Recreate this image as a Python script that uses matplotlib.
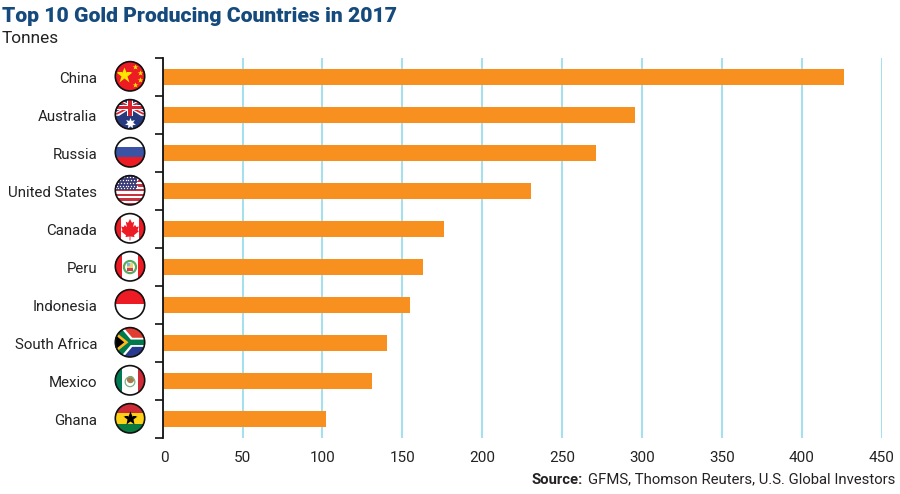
import matplotlib
matplotlib.use("Agg")
import matplotlib.pyplot as plt
from matplotlib.patches import Circle, Rectangle, Polygon
from matplotlib.transforms import ScaledTranslation

plt.rcParams['font.family'] = ['Roboto', 'DejaVu Sans']

countries = ["China", "Australia", "Russia", "United States", "Canada",
             "Peru", "Indonesia", "South Africa", "Mexico", "Ghana"]
tonnes = [426.5, 295.5, 271, 230.5, 176, 163, 154.5, 140.5, 131, 102]
xticks = [0, 50, 100, 150, 200, 250, 300, 350, 400, 450]
title = "Top 10 Gold Producing Countries in 2017"
subtitle = "Tonnes"
source_bold = "Source:"
source_rest = "GFMS, Thomson Reuters, U.S. Global Investors"

W, H = 900, 494
fig = plt.figure(figsize=(W / 100, H / 100), dpi=100)
ax = fig.add_axes([162.7 / W, 1 - 438.3 / H, 719 / W, 380 / H])

TEXT = "#232325"
ax.barh(range(len(countries)), tonnes, height=16 / 38, color="#F7901E", zorder=3)
ax.set_xlim(0, 450)
ax.set_ylim(len(countries) - 0.5, -0.5)
ax.set_xticks(xticks)
ax.set_xticklabels([str(t) for t in xticks], fontsize=11, color=TEXT)
ax.tick_params(axis='x', length=0, pad=9)
zero = ax.get_xticklabels()[0]
zero.set_transform(zero.get_transform() + ScaledTranslation(1.5 / 72, 0, fig.dpi_scale_trans))
ax.set_yticks([i - 0.5 for i in range(len(countries) + 1)])
ax.set_yticklabels([])
ax.tick_params(axis='y', which='major', length=5.5, width=1.2, color="#111111", direction='out')
ax.set_yticks(range(len(countries)), minor=True)
ax.set_yticklabels(countries, minor=True, fontsize=10.8, color=TEXT)
ax.tick_params(axis='y', which='minor', length=0, pad=47)
ax.grid(axis='x', color="#A6DFEE", linewidth=1.5, zorder=1)
ax.set_axisbelow(True)
for s in ('top', 'right', 'bottom'):
    ax.spines[s].set_visible(False)
ax.spines['left'].set_linewidth(1.3)
ax.spines['left'].set_color("#111111")
ax.spines['left'].set_zorder(5)

fig.text(2 / W, 1 - 22 / H, title, fontsize=15.2, fontweight='black', color="#154A7D", va='baseline')
fig.text(2 / W, 1 - 43 / H, subtitle, fontsize=12.4, color=TEXT, va='baseline')
fig.text(532 / W, 1 - 483.5 / H, source_bold, fontsize=10.7, fontweight='bold', color=TEXT, va='baseline')
fig.text(588 / W, 1 - 483.5 / H, source_rest, fontsize=10.7, color=TEXT, va='baseline')


def rect(a, x0, y0, x1, y1, c, z=2):
    a.add_patch(Rectangle((x0, y0), x1 - x0, y1 - y0, fc=c, ec='none', zorder=z))


def poly(a, pts, c, z=3):
    a.add_patch(Polygon(pts, closed=True, fc=c, ec='none', zorder=z))


def star(a, x, y, s, c, z=4):
    a.plot([x], [y], marker='*', ms=s, mfc=c, mec='none', zorder=z)


def china(a):
    rect(a, -1, -1, 1, 1, "#ED1C24")
    star(a, -0.42, 0.08, 12, "#FFE500")
    for x, y in [(0.32, 0.6), (0.65, 0.2), (0.65, -0.22), (0.32, -0.6)]:
        star(a, x, y, 4.2, "#FFE500")


def australia(a):
    rect(a, -1, -1, 1, 1, "#27397F")
    for p in ([(-1, 1), (-0.72, 1), (1, 0.12), (1, -0.1), (0.72, -0.1)],
              [(1, 1), (0.72, 1), (-1, 0.12), (-1, -0.1), (-0.72, -0.1)]):
        poly(a, p, "white", 3)
    for p in ([(-1, 0.93), (-0.88, 1), (1, 0.03), (0.86, -0.03)],
              [(1, 0.93), (0.88, 1), (-1, 0.03), (-0.86, -0.03)]):
        poly(a, p, "#D5232F", 4)
    rect(a, -1, 0.28, 1, 0.62, "white", 5)
    rect(a, -0.2, -0.1, 0.2, 1, "white", 5)
    rect(a, -1, 0.35, 1, 0.55, "#D5232F", 6)
    rect(a, -0.11, -0.1, 0.11, 1, "#D5232F", 6)
    a.plot([0], [-0.58], marker=(7, 1, 0), ms=8, mfc="white", mec='none', zorder=7)


def russia(a):
    rect(a, -1, 0.36, 1, 1, "white")
    rect(a, -1, -0.33, 1, 0.36, "#3A53A4")
    rect(a, -1, -1, 1, -0.33, "#ED1C24")


def usa(a):
    rect(a, -1, -1, 1, 1, "white")
    n = 13
    for i in range(0, n, 2):
        y1 = 1 - i * 2 / n
        rect(a, -1, y1 - 2 / n, 1, y1, "#C8313E")
    rect(a, -1, 0, 0.45, 1, "#3B3B78", 3)
    for r in range(5):
        for c in range(8):
            a.plot([-0.95 + c * 0.19 + (0.09 if r % 2 else 0)], [0.88 - r * 0.19], marker='o', ms=1.0,
                   mfc="white", mec='none', zorder=4)


def canada(a):
    rect(a, -1, -1, 1, 1, "white")
    rect(a, -1, -1, -0.62, 1, "#ED1C24")
    rect(a, 0.62, -1, 1, 1, "#ED1C24")
    leaf = [(0, 0.62), (-0.13, 0.36), (-0.28, 0.44), (-0.2, 0.08), (-0.34, 0.22), (-0.42, 0.08),
            (-0.58, 0.12), (-0.5, -0.12), (-0.58, -0.2), (-0.26, -0.46), (-0.3, -0.58), (-0.03, -0.54),
            (-0.03, -0.8), (0.03, -0.8), (0.03, -0.54), (0.3, -0.58), (0.26, -0.46), (0.58, -0.2),
            (0.5, -0.12), (0.58, 0.12), (0.42, 0.08), (0.34, 0.22), (0.2, 0.08), (0.28, 0.44), (0.13, 0.36)]
    poly(a, leaf, "#ED1C24")


def peru(a):
    rect(a, -1, -1, 1, 1, "white")
    rect(a, -1, -1, -0.55, 1, "#ED1C24")
    rect(a, 0.55, -1, 1, 1, "#ED1C24")
    a.add_patch(Circle((0, -0.05), 0.4, fc='none', ec="#5BAA5F", lw=1.6, zorder=3))
    rect(a, -0.17, -0.32, 0.17, 0.22, "#E9D27A", 4)
    rect(a, -0.17, 0.0, 0, 0.22, "#7FB7DC", 5)
    rect(a, -0.17, -0.32, 0.17, -0.12, "#D0454C", 5)


def indonesia(a):
    rect(a, -1, 0, 1, 1, "#ED1C24")
    rect(a, -1, -1, 1, 0, "white")


def south_africa(a):
    rect(a, -1, 0, 1, 1, "#E03C31")
    rect(a, -1, -1, 1, 0, "#27398F")
    poly(a, [(-1, 1), (-0.45, 1), (0.15, 0.3), (1, 0.3), (1, -0.3), (0.15, -0.3), (-0.45, -1), (-1, -1)], "white", 3)
    poly(a, [(-1, 1), (-0.65, 1), (0.05, 0.18), (1, 0.18), (1, -0.18), (0.05, -0.18), (-0.65, -1), (-1, -1)], "#007A4D", 4)
    poly(a, [(-1, 0.72), (-0.1, 0), (-1, -0.72)], "#FFB81C", 5)
    poly(a, [(-1, 0.5), (-0.38, 0), (-1, -0.5)], "black", 6)


def mexico(a):
    rect(a, -1, -1, -0.55, 1, "#007A53")
    rect(a, -0.55, -1, 0.55, 1, "white")
    rect(a, 0.55, -1, 1, 1, "#CE2B37")
    a.add_patch(Circle((0.03, 0.05), 0.24, fc="#A77B4B", ec='none', zorder=3))
    a.add_patch(Circle((0, -0.1), 0.32, fc='none', ec="#7DAF86", lw=0.9, zorder=4))


def ghana(a):
    rect(a, -1, 0.36, 1, 1, "#CE2B37")
    rect(a, -1, -0.36, 1, 0.36, "#FCD116")
    rect(a, -1, -1, 1, -0.36, "#0B7A3E")
    star(a, 0, 0, 10, "black")


painters = [china, australia, russia, usa, canada, peru, indonesia, south_africa, mexico, ghana]

for i, paint in enumerate(painters):
    fx, fy = fig.transFigure.inverted().transform(ax.transData.transform((0, i)))
    cx = fx - 32.7 / W
    fy += 1 / H
    r = 15.6
    a = fig.add_axes([cx - r / W, fy - r / H, 2 * r / W, 2 * r / H])
    a.set_xlim(-1.03, 1.03)
    a.set_ylim(-1.03, 1.03)
    a.axis('off')
    clip = Circle((0, 0), 1, transform=a.transData)
    paint(a)
    for art in list(a.patches) + list(a.lines):
        art.set_clip_path(clip)
    a.add_patch(Circle((0, 0), 0.97, fc='none', ec="#111111", lw=1.2, zorder=10, clip_on=False))

fig.savefig("out.png", dpi=100)
